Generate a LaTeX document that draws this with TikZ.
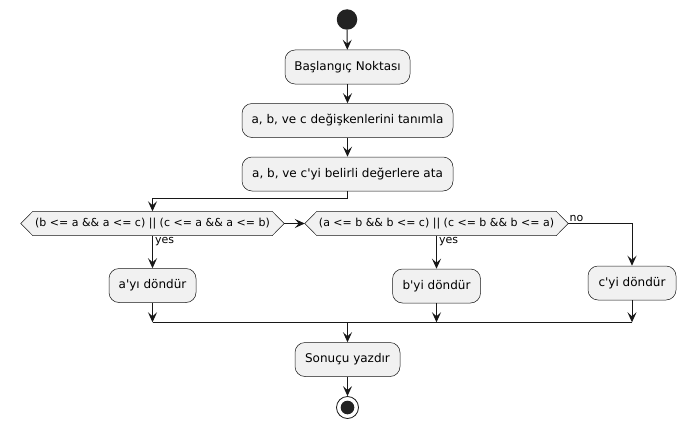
\documentclass[tikz,border=0pt]{standalone}
\usepackage{fontspec}
\setmainfont{DejaVu Sans}
\usetikzlibrary{arrows.meta,calc,backgrounds}
\definecolor{boxfill}{HTML}{F1F1F1}
\definecolor{ink}{HTML}{181818}
\definecolor{dot}{HTML}{222222}
\newcommand{\apo}{\textquotesingle}
\begin{document}
\begin{tikzpicture}[x=1pt,y=-1pt,
  act/.style={draw=ink, fill=boxfill, rounded corners=10pt, line width=0.5pt,
    minimum height=34pt, inner sep=0pt, font=\fontsize{12}{14}\selectfont, text=black},
  dtext/.style={draw=none, minimum height=24pt, inner sep=0pt,
    font=\fontsize{11}{13}\selectfont, text=black},
  hexa/.style={draw=ink, fill=boxfill, line width=0.5pt},
  flow/.style={draw=ink, line width=1pt, -{Stealth[length=10pt,width=9pt,inset=4pt]}},
  plain/.style={draw=ink, line width=1pt},
  lbl/.style={font=\fontsize{11}{13}\selectfont, inner sep=1.5pt, text=black},
  startdot/.style={circle, fill=dot, minimum size=20.5pt, inner sep=0pt},
  enddot/.style={circle, draw=ink, line width=0.8pt, fill=white, minimum size=22pt, inner sep=0pt,
    path picture={\fill[dot] (path picture bounding box.center) circle (6.8pt);}}
]
\useasboundingbox (0,0) rectangle (685,428);

\node[startdot] (start) at (347,19.5) {};
\node[act, minimum width=125pt] (b1) at (347.5,67) {Başlangıç Noktası};
\node[act, minimum width=211pt] (b2) at (347.5,120.5) {a, b, ve c değişkenlerini tanımla};
\node[act, minimum width=211pt] (b3) at (347.5,174) {a, b, ve c\apo yi belirli değerlere ata};

\node[dtext, minimum width=239pt] (d1) at (152.5,223.5) {(b <= a \&\& a <= c) || (c <= a \&\& a <= b)};
\node[dtext, minimum width=239pt] (d2) at (436.5,223.5) {(a <= b \&\& b <= c) || (c <= b \&\& b <= a)};

\node[act, minimum width=87pt] (ba) at (152.5,285.5) {a\apo yı döndür};
\node[act, minimum width=88pt] (bb) at (436.5,286) {b\apo yi döndür};
\node[act, minimum width=88pt] (bc) at (632,283) {c\apo yi döndür};

\coordinate (mrg) at (347.5,322.3);
\node[act, minimum width=105pt] (bs) at (347.5,359.5) {Sonuçu yazdır};
\node[enddot] (end) at (347.5,407.5) {};

\begin{scope}[on background layer]
  \fill[white] (0,0) rectangle (685,428);
  \draw[hexa] (d1.north west) -- (d1.north east) -- ($(d1.east)+(12,0)$) coordinate (d1r)
     -- (d1.south east) -- (d1.south west) -- ($(d1.west)+(-12,0)$) coordinate (d1l) -- cycle;
  \draw[hexa] (d2.north west) -- (d2.north east) -- ($(d2.east)+(12,0)$) coordinate (d2r)
     -- (d2.south east) -- (d2.south west) -- ($(d2.west)+(-12,0)$) coordinate (d2l) -- cycle;
\end{scope}

\draw[flow] (start) -- (b1);
\draw[flow] (b1) -- (b2);
\draw[flow] (b2) -- (b3);
\draw[flow] (b3.south) -- ++(0,7) -| (d1.north);

\draw[flow] (d1r) -- (d2l);
\draw[flow] (d1.south) -- node[lbl, pos=0, anchor=north west, xshift=0.5pt] {yes} (ba.north);
\draw[flow] (d2.south) -- node[lbl, pos=0, anchor=north west, xshift=0.5pt] {yes} (bb.north);
\draw[flow] (d2r) -| node[lbl, pos=0, anchor=south west, inner sep=1pt, yshift=0.5pt] {no} (bc.north);

\draw[flow] (ba.south) -- (ba.south |- mrg);
\draw[flow] (bb.south) -- (bb.south |- mrg);
\draw[flow] (bc.south) -- (bc.south |- mrg);
\draw[plain] (ba.south |- mrg) -- (bc.south |- mrg);
\draw[flow] (mrg) -- (bs);
\draw[flow] (bs) -- (end);
\end{tikzpicture}
\end{document}
